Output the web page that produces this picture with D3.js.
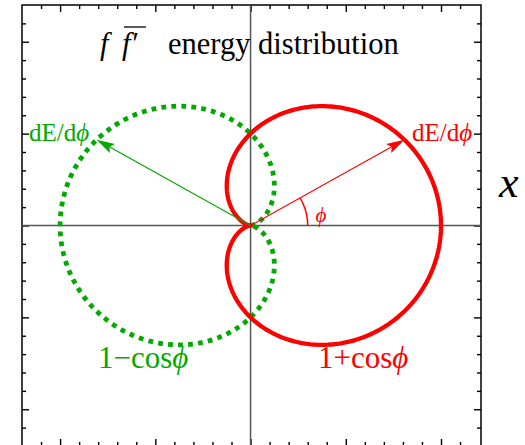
<!DOCTYPE html>
<html>
<head>
<meta charset="utf-8">
<script src="https://cdn.jsdelivr.net/npm/d3@7"></script>
<style>
  html, body { margin: 0; padding: 0; background: #fff; }
  svg { display: block; }
  text { font-family: "Liberation Serif", "DejaVu Serif", serif; }
</style>
</head>
<body>
<svg id="chart" width="525" height="445"></svg>
<script>
// Radiation pattern dE/dφ for the two helicity channels: r = 1 + s·cosφ
const seriesLabels = ["1+cos", "1\u2212cos"];
const seriesSigns = [1, -1];
const seriesColors = ["#ff0000", "#00aa00"];
const arrowAnglesDeg = [30, 150];      // direction of each dE/dφ arrow
const arcRadius = 0.6;                 // radius of the φ angle marker
const sampleAnglesDeg = d3.range(0, 361, 1);

// Axis ticks (no numeric labels)
const majorTicks = [-2, -1, 0, 1, 2];
const minorTicks = [-2.2, -1.8, -1.6, -1.4, -1.2, -0.8, -0.6, -0.4, -0.2,
                    0.2, 0.4, 0.6, 0.8, 1.2, 1.4, 1.6, 1.8, 2.2];

const svg = d3.select("#chart");
const frame = { left: 22, right: 481, top: 5, bottom: 446 };

const x = d3.scaleLinear().domain([-2.4, 2.42]).range([frame.left, frame.right]);
const y = d3.scaleLinear().domain([-2.4, 2.4]).range([frame.bottom, frame.top]);

const rad = d => d * Math.PI / 180;

// Frame
svg.append("rect")
  .attr("x", frame.left).attr("y", frame.top)
  .attr("width", frame.right - frame.left).attr("height", frame.bottom - frame.top)
  .attr("fill", "none").attr("stroke", "#000").attr("stroke-width", 1.5);

// Inward ticks on all four sides
function ticks(axisFn, values, size, transform) {
  const g = svg.append("g").attr("transform", transform)
    .call(axisFn.tickValues(values).tickSize(-size).tickFormat(""));
  g.select(".domain").remove();
  g.selectAll(".tick line").attr("stroke", "#000").attr("stroke-width", 1.4);
}
[[majorTicks, 7], [minorTicks, 4]].forEach(([vals, size]) => {
  ticks(d3.axisBottom(x), vals, size, `translate(0,${frame.bottom})`);
  ticks(d3.axisTop(x), vals, size, `translate(0,${frame.top})`);
  ticks(d3.axisLeft(y), vals, size, `translate(${frame.left},0)`);
  ticks(d3.axisRight(y), vals, size, `translate(${frame.right},0)`);
});

// Coordinate axes through the origin
svg.append("line")
  .attr("x1", frame.left).attr("x2", frame.right).attr("y1", y(0)).attr("y2", y(0))
  .attr("stroke", "#555").attr("stroke-width", 1.5);
svg.append("line")
  .attr("x1", x(0)).attr("x2", x(0)).attr("y1", frame.top).attr("y2", frame.bottom)
  .attr("stroke", "#555").attr("stroke-width", 1.5);

// Polar curves
const polar = (s) => sampleAnglesDeg.map(a => {
  const r = 1 + s * Math.cos(rad(a));
  return [r * Math.cos(rad(a)), r * Math.sin(rad(a))];
});
const line = d3.line().x(d => x(d[0])).y(d => y(d[1]));

// dotted 1−cosφ
svg.append("path")
  .attr("d", line(polar(seriesSigns[1])))
  .attr("fill", "none").attr("stroke", seriesColors[1])
  .attr("stroke-width", 4.8).attr("stroke-dasharray", "4.8,5.2");

// solid 1+cosφ
svg.append("path")
  .attr("d", line(polar(seriesSigns[0])))
  .attr("fill", "none").attr("stroke", seriesColors[0])
  .attr("stroke-width", 4.3).attr("stroke-linejoin", "round");

// Arrows from origin to the curves
seriesSigns.forEach((s, i) => {
  const a = rad(arrowAnglesDeg[i]);
  const r = 1 + s * Math.cos(a);
  const tx = x(r * Math.cos(a)), ty = y(r * Math.sin(a));
  const ox = x(0), oy = y(0);
  const dx = tx - ox, dy = ty - oy, len = Math.hypot(dx, dy);
  const ux = dx / len, uy = dy / len;
  const headLen = 18, headW = 5.2;
  const bx = tx - ux * headLen, by = ty - uy * headLen;
  svg.append("line")
    .attr("x1", ox).attr("y1", oy).attr("x2", bx + ux * 3).attr("y2", by + uy * 3)
    .attr("stroke", seriesColors[i]).attr("stroke-width", 1.2);
  const px = -uy, py = ux;
  svg.append("path")
    .attr("d", `M${tx},${ty}L${bx + px * headW},${by + py * headW}` +
               `L${tx - ux * headLen * 0.82},${ty - uy * headLen * 0.82}` +
               `L${bx - px * headW},${by - py * headW}Z`)
    .attr("fill", seriesColors[i]);
});

// Angle marker φ
const arcPts = d3.range(0, arrowAnglesDeg[0] + 0.01, 1)
  .map(a => [arcRadius * Math.cos(rad(a)), arcRadius * Math.sin(rad(a))]);
svg.append("path")
  .attr("d", line(arcPts))
  .attr("fill", "none").attr("stroke", seriesColors[0]).attr("stroke-width", 1.5);
svg.append("text")
  .attr("x", 321).attr("y", 222)
  .attr("text-anchor", "middle")
  .attr("font-size", 21).attr("font-style", "italic")
  .attr("fill", seriesColors[0]).text("\u03d5");

// dE/dφ labels
const dLabel = (xx, yy, color) => {
  const t = svg.append("text").attr("x", xx).attr("y", yy)
    .attr("font-size", 25).attr("fill", color);
  t.append("tspan").text("dE/d");
  t.append("tspan").attr("font-style", "italic").text("\u03d5");
};
dLabel(412, 141, seriesColors[0]);
dLabel(29, 141, seriesColors[1]);

// Curve formulas
const fLabel = (xx, yy, txt, color) => {
  const t = svg.append("text").attr("x", xx).attr("y", yy)
    .attr("font-size", 31).attr("fill", color);
  t.append("tspan").text(txt);
  t.append("tspan").attr("font-style", "italic").text("\u03d5");
};
fLabel(318, 368, seriesLabels[0], seriesColors[0]);
fLabel(98, 368, seriesLabels[1], seriesColors[1]);

// Axis label x
svg.append("text")
  .attr("x", 499).attr("y", 197)
  .attr("font-size", 44).attr("font-style", "italic")
  .attr("fill", "#000").text("x");

// Title: f f̄′ energy distribution
const title = svg.append("text").attr("y", 54)
  .attr("font-size", 30.5).attr("fill", "#000");
title.append("tspan").attr("x", 100).attr("font-style", "italic").text("f");
title.append("tspan").attr("x", 122).attr("font-style", "italic").text("f\u2032");
title.append("tspan").attr("x", 168).text("energy distribution");
svg.append("line")
  .attr("x1", 124).attr("x2", 146).attr("y1", 27).attr("y2", 27)
  .attr("stroke", "#000").attr("stroke-width", 1.3);
</script>
</body>
</html>
